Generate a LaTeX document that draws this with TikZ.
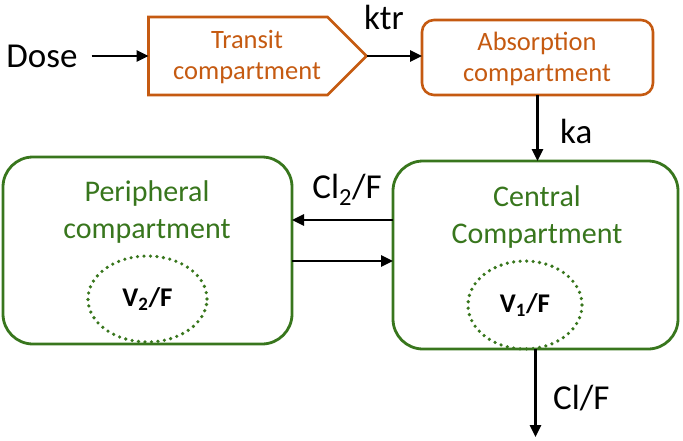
\documentclass[tikz,border=0pt]{standalone}
\usepackage{fontspec}
\setmainfont{Carlito}
\usetikzlibrary{arrows.meta,shapes.geometric,shapes.symbols}
\definecolor{boxorange}{RGB}{197,90,17}
\definecolor{boxgreen}{RGB}{56,118,29}

\begin{document}
\begin{tikzpicture}[x=1pt,y=-1pt,
  lbl/.style={font=\fontsize{35}{40}\selectfont,inner sep=0pt},
  arr/.style={line width=2.6pt,arrows={-Triangle[length=12pt,width=11pt]}},
  orangebox/.style={draw=boxorange,line width=2.6pt,inner sep=0pt,outer sep=0pt},
  orangetext/.style={text=boxorange,align=center,font=\fontsize{26.5}{31}\selectfont},
  greenbox/.style={draw=boxgreen,line width=2.8pt,rounded corners=30pt,inner sep=0pt,outer sep=0pt},
  greentext/.style={text=boxgreen,align=center,font=\fontsize{30}{37}\selectfont},
  vol/.style={ellipse,draw=boxgreen,line width=3.6pt,line cap=round,dash pattern=on 0pt off 6.5pt,
    inner sep=0pt,font=\bfseries\fontsize{27}{30}\selectfont}]
\useasboundingbox (0,0) rectangle (683,440);

% absorption part
\node[lbl] (dose) at (42,56) {Dose};
\node[orangebox,signal,signal to=east,signal pointer angle=90,
  minimum width=218pt,minimum height=78pt] (transit) at (238,56) {};
\node[orangetext] (transittxt) at (247,57) {Transit\\compartment};
\node[orangebox,rectangle,rounded corners=12pt,minimum width=231pt,minimum height=75pt]
  (absorption) at (537.5,57.5) {};
\node[orangetext] (absorptiontxt) at (537,59) {Absorption\\compartment};

% compartments
\node[greenbox,rectangle,minimum width=289pt,minimum height=187pt] (peripheral) at (147.5,250.5) {};
\node[greenbox,rectangle,minimum width=285pt,minimum height=188pt] (central) at (535.5,255) {};
\node[greentext] (periphtxt) at (147,212) {Peripheral\\compartment};
\node[greentext] (centraltxt) at (537,216.5) {Central\\Compartment};
\node[vol,minimum width=119pt,minimum height=86pt] (v2) at (147.5,299) {V\textsubscript{2}/F};
\node[vol,minimum width=114pt,minimum height=88pt] (v1) at (525,305) {V\textsubscript{1}/F};

\coordinate (clend) at (535.5,437);

% arrows
\draw[arr] ([xshift=14pt]dose.east) -- (transit.west);
\draw[arr] (transit.east) -- (absorption.west |- transit.east);
\draw[arr] (absorption.south) -- (absorption.south |- central.north);
\draw[arr] ([yshift=35pt]central.west) -- ([yshift=35pt]central.west -| peripheral.east);
\draw[arr] ([yshift=-6pt]central.west -| peripheral.east) -- ([yshift=-6pt]central.west);
\draw[arr] (central.south) -- (clend);

% rate labels
\node[lbl] (ktr) at (384,17) {ktr};
\node[lbl,anchor=west] (ka) at (560,131) {ka};
\node[lbl] (cl2) at (347,190) {Cl\textsubscript{2}/F};
\node[lbl,anchor=west] (cl) at (553,398) {Cl/F};

\end{tikzpicture}
\end{document}
